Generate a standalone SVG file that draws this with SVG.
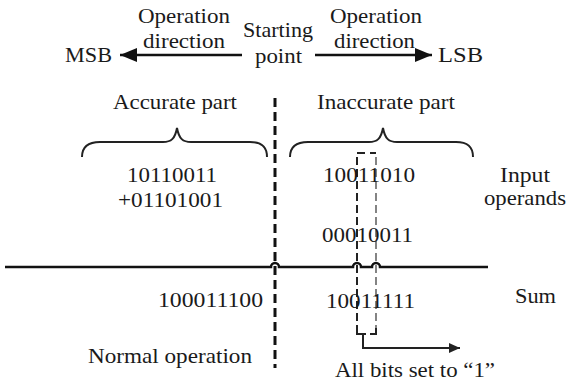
<svg xmlns="http://www.w3.org/2000/svg" width="568" height="381" viewBox="0 0 568 381">
<defs>
<style>
text{font-family:"Liberation Serif","Times New Roman",serif;font-size:21px;fill:#1a1a1a}
.ln{fill:none;stroke:#111;stroke-width:2.5}
.brace{fill:none;stroke:#222;stroke-width:2}
.dash{fill:none;stroke:#111;stroke-width:3;stroke-dasharray:9 5}
.dk{fill:none;stroke:#222;stroke-width:2;stroke-dasharray:8 4}
.gr{fill:none;stroke:#777;stroke-width:1.8;stroke-dasharray:8 4}
.thin{fill:none;stroke:#222;stroke-width:2}
</style>
<marker id="ah" markerUnits="userSpaceOnUse" markerWidth="18" markerHeight="14" refX="17" refY="7" orient="auto"><path d="M0,0 L17,7 L0,14 Z" fill="#111"/></marker>
<marker id="ah2" markerUnits="userSpaceOnUse" markerWidth="12" markerHeight="10" refX="11" refY="5" orient="auto"><path d="M0,0 L11,5 L0,10 Z" fill="#222"/></marker>
</defs>
<rect width="568" height="381" fill="#fff"/>
<g id="connectors">
<path class="ln" d="M242,55 H120" stroke-width="3.5" marker-end="url(#ah)"/>
<path class="ln" d="M315,55 H432" stroke-width="3.5" marker-end="url(#ah)"/>
<path class="brace" d="M82,157 C82,146 89,142 100,142 L163,142 C171,142 175,139 177,128 C179,139 183,142 191,142 L250,142 C261,142 267,146 267,157"/>
<path class="brace" d="M290,157 C290,146 297,142 308,142 L369,142 C377,142 381,139 383,128 C385,139 389,142 397,142 L456,142 C467,142 473,146 473,157"/>
<path class="ln" d="M5,267 H271 A4,4 0 0 1 279,267 H353 A4,4 0 0 1 361,267 H372 A4,4 0 0 1 380,267 H488"/>
<path class="dash" d="M275,98 V368"/>
<path class="thin" d="M365,153 H357"/>
<path class="dk" d="M357,157 V330"/>
<path class="thin" d="M357,328 V334 H366"/>
<path class="thin" d="M370,153 H376" stroke="#777"/>
<path class="gr" d="M376,157 V330"/>
<path class="thin" d="M376,328 V334 H370" stroke="#555"/>
<path class="thin" d="M363,334 V348 H460" marker-end="url(#ah2)"/>
</g>
<g id="top-labels">
<text x="138" y="23" textLength="92" lengthAdjust="spacingAndGlyphs">Operation</text>
<text x="143" y="48" textLength="82" lengthAdjust="spacingAndGlyphs">direction</text>
<text x="243" y="37" textLength="70" lengthAdjust="spacingAndGlyphs">Starting</text>
<text x="255" y="63" textLength="47" lengthAdjust="spacingAndGlyphs">point</text>
<text x="330" y="23" textLength="92" lengthAdjust="spacingAndGlyphs">Operation</text>
<text x="334" y="48" textLength="81" lengthAdjust="spacingAndGlyphs">direction</text>
<text x="65" y="62" textLength="47" lengthAdjust="spacingAndGlyphs">MSB</text>
<text x="438" y="62" textLength="45" lengthAdjust="spacingAndGlyphs">LSB</text>
</g>
<g id="accurate">
<text x="113" y="109" textLength="124" lengthAdjust="spacingAndGlyphs">Accurate part</text>
<text x="127" y="182" textLength="90" lengthAdjust="spacingAndGlyphs">10110011</text>
<text x="118" y="207" textLength="105" lengthAdjust="spacingAndGlyphs">+01101001</text>
<text x="158" y="307" textLength="105" lengthAdjust="spacingAndGlyphs">100011100</text>
<text x="88" y="363" textLength="164" lengthAdjust="spacingAndGlyphs">Normal operation</text>
</g>
<g id="inaccurate">
<text x="317" y="109" textLength="138" lengthAdjust="spacingAndGlyphs">Inaccurate part</text>
<text x="323" y="182" textLength="92" lengthAdjust="spacingAndGlyphs">10011010</text>
<text x="322" y="242" textLength="91" lengthAdjust="spacingAndGlyphs">00010011</text>
<text x="326" y="308" textLength="89" lengthAdjust="spacingAndGlyphs">10011111</text>
<text x="335" y="377" textLength="160" lengthAdjust="spacingAndGlyphs">All bits set to “1”</text>
</g>
<g id="side-labels">
<text x="500" y="182" textLength="50" lengthAdjust="spacingAndGlyphs">Input</text>
<text x="484" y="205" textLength="82" lengthAdjust="spacingAndGlyphs">operands</text>
<text x="515" y="303" textLength="41" lengthAdjust="spacingAndGlyphs">Sum</text>
</g>
</svg>
